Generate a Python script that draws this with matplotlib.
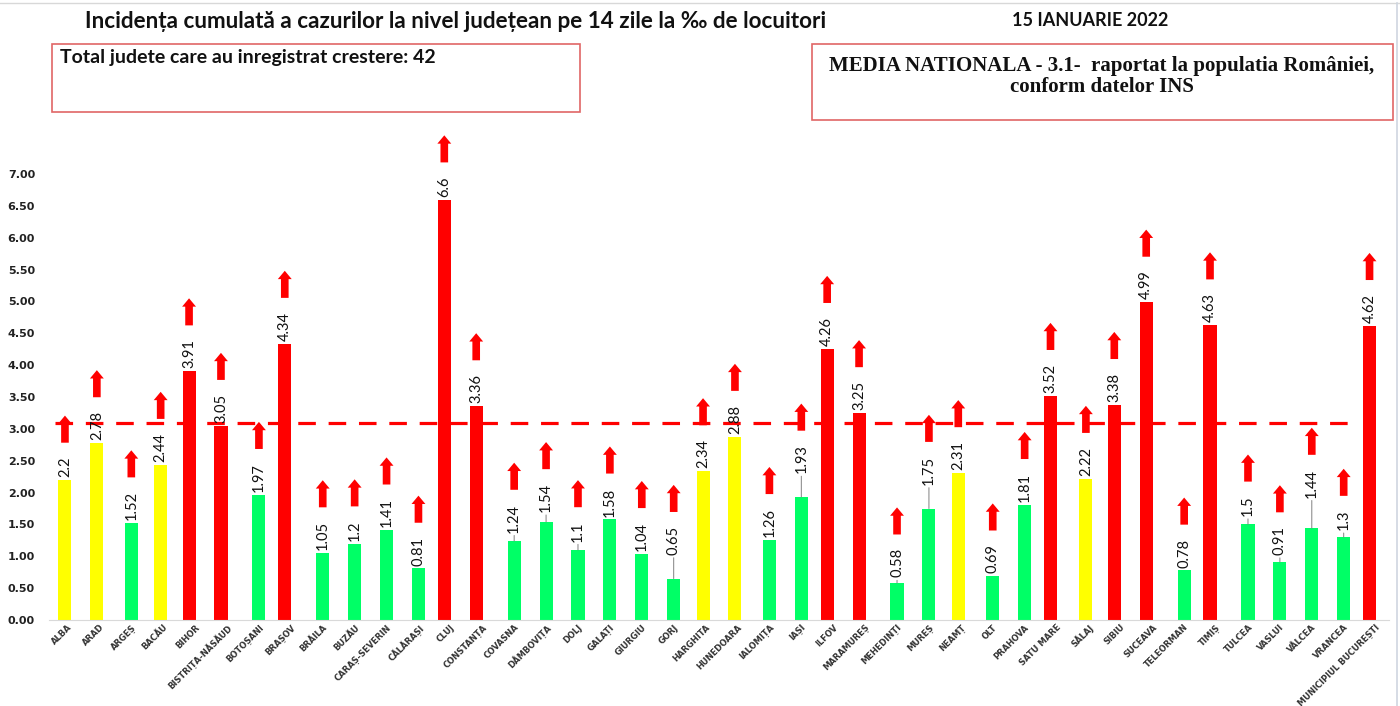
"""
incidenta_judete.py — Incidenta cumulata pe 14 zile la mia de locuitori, 15 ianuarie 2022
"""

import matplotlib
matplotlib.use('Agg')
import matplotlib.pyplot as plt
from matplotlib.patches import Rectangle
from matplotlib.lines import Line2D
import numpy as np

# ─── Data ─────────────────────────────────────────────────────────────
judete = ['ALBA', 'ARAD', 'ARGEȘ', 'BACĂU', 'BIHOR', 'BISTRIȚA-NĂSĂUD', 'BOTOȘANI',
          'BRAȘOV', 'BRĂILA', 'BUZĂU', 'CARAȘ-SEVERIN', 'CĂLĂRAȘI', 'CLUJ',
          'CONSTANȚA', 'COVASNA', 'DÂMBOVIȚA', 'DOLJ', 'GALAȚI', 'GIURGIU', 'GORJ',
          'HARGHITA', 'HUNEDOARA', 'IALOMIȚA', 'IAȘI', 'ILFOV', 'MARAMUREȘ',
          'MEHEDINȚI', 'MUREȘ', 'NEAMȚ', 'OLT', 'PRAHOVA', 'SATU MARE', 'SĂLAJ',
          'SIBIU', 'SUCEAVA', 'TELEORMAN', 'TIMIȘ', 'TULCEA', 'VASLUI', 'VÂLCEA',
          'VRANCEA', 'MUNICIPIUL BUCUREȘTI']
incidenta = [2.2, 2.78, 1.52, 2.44, 3.91, 3.05, 1.97,
             4.34, 1.05, 1.2, 1.41, 0.81, 6.6,
             3.36, 1.24, 1.54, 1.1, 1.58, 1.04, 0.65,
             2.34, 2.88, 1.26, 1.93, 4.26, 3.25,
             0.58, 1.75, 2.31, 0.69, 1.81, 3.52, 2.22,
             3.38, 4.99, 0.78, 4.63, 1.5, 0.91, 1.44,
             1.3, 4.62]
media_nationala = 3.1
total_crestere = 42

# ─── Style ────────────────────────────────────────────────────────────
C_RED, C_YEL, C_GRN = '#ff0000', '#ffff00', '#00ff66'
# Excel clustered series overlap -> small shift per series
shift = {C_RED: -0.11, C_YEL: 0.0, C_GRN: 0.08}
# labels pushed up with a leader line (points)
lift = {'COVASNA': 4, 'DÂMBOVIȚA': 5, 'DOLJ': 4, 'GORJ': 15, 'IAȘI': 15,
        'MEHEDINȚI': 2, 'MUREȘ': 15, 'TULCEA': 4, 'VASLUI': 3, 'VÂLCEA': 20,
        'VRANCEA': 3}
SANS = ['Lato', 'DejaVu Sans']

def zona(v):
    if v >= 3:
        return C_RED
    if v >= 2:
        return C_YEL
    return C_GRN

W, H = 1400, 706
fig = plt.figure(figsize=(W / 100, H / 100), dpi=100)
ax = fig.add_axes([49 / W, (H - 620) / H, (1389 - 49) / W, 490.5 / H])

colors = [zona(v) for v in incidenta]
xs = np.arange(len(judete)) + np.array([shift[c] for c in colors])
ax.bar(xs, incidenta, width=0.41, color=colors, zorder=2)

ax.set_xlim(-0.5, len(judete) - 0.5)
ax.set_ylim(0, 7.7)
ax.set_yticks(np.arange(0, 7.01, 0.5))
ax.set_yticklabels([f'{t:.2f}' for t in np.arange(0, 7.01, 0.5)],
                   fontsize=8, fontweight='bold', color='#222222')
ax.set_xticks(np.arange(len(judete)) + 0.08)
ax.set_xticklabels(judete, rotation=45, ha='right', va='top',
                   rotation_mode='anchor', fontsize=6, fontweight='bold',
                   color='#333333')
ax.tick_params(axis='both', length=0)
ax.tick_params(axis='x', pad=2)
ax.tick_params(axis='y', pad=10)
for s in ['top', 'right', 'left']:
    ax.spines[s].set_visible(False)
ax.spines['bottom'].set_color('#d9d9d9')

# national average
ax.hlines(media_nationala, -0.3, len(judete) - 1.55, colors=C_RED, lw=2.3,
          linestyles=(0, (5.5, 4)), zorder=3)

# value labels
labels = []
for x, v, j in zip(xs, incidenta, judete):
    up = lift.get(j, 0)
    arr = dict(arrowstyle='-', color='#808080', lw=0.7, shrinkA=0, shrinkB=0) if up else None
    t = ax.annotate(f'{v:g}', xy=(x, v), xytext=(0, 2 + up), textcoords='offset points',
                    rotation=90, ha='center', va='bottom', fontsize=10.5,
                    family=SANS, color='#111111', arrowprops=arr, zorder=4)
    labels.append(t)

# red "up" arrows above labels
fig.canvas.draw()
inv = ax.transData.inverted()
ppt = fig.dpi / 72
for x, t in zip(xs, labels):
    top = t.get_window_extent().y1
    tail = inv.transform((0, top + 10 * ppt))[1]
    tip = inv.transform((0, top + 29.5 * ppt))[1]
    ax.annotate('', xy=(x, tip), xytext=(x, tail),
                arrowprops=dict(arrowstyle='simple,head_width=1.0,head_length=0.6,tail_width=0.55',
                                fc=C_RED, ec='none', mutation_scale=10,
                                shrinkA=0, shrinkB=0),
                annotation_clip=False, zorder=5)

# ─── Titles and boxes ─────────────────────────────────────────────────
fig.text(456 / W, 1 - 21 / H, 'Incidența cumulată a cazurilor la nivel județean pe 14 zile la ‰ de locuitori',
         ha='center', va='center', fontsize=16.2, fontweight='bold',
         family=SANS, color='#111111')
fig.text(1090 / W, 1 - 20 / H, '15 IANUARIE 2022', ha='center', va='center',
         fontsize=13, fontweight='bold', family=SANS, color='#111111')

fig.add_artist(Rectangle((52 / W, 1 - 112 / H), 528 / W, 68 / H, transform=fig.transFigure,
                         fill=False, ec='#e06666', lw=1.2))
fig.text(60 / W, 1 - 57 / H, f'Total judete care au inregistrat crestere: {total_crestere}',
         ha='left', va='center', fontsize=14, fontweight='bold',
         family=SANS, color='#111111')

SERIF = ['Liberation Serif', 'DejaVu Serif']
fig.add_artist(Rectangle((812 / W, 1 - 120 / H), 581 / W, 76 / H, transform=fig.transFigure,
                         fill=False, ec='#e06666', lw=1.2))
fig.text(1102 / W, 1 - 66 / H, f'MEDIA NATIONALA - {media_nationala}-  raportat la populatia României,',
         ha='center', va='center', fontsize=15, fontweight='bold',
         family=SERIF, color='#111111')
fig.text(1102 / W, 1 - 87 / H, 'conform datelor INS', ha='center', va='center',
         fontsize=15, fontweight='bold', family=SERIF, color='#111111')

# screenshot frame edges
fig.add_artist(Line2D([0, 1], [1 - 3 / H, 1 - 3 / H], transform=fig.transFigure,
                      color='#d8d8d8', lw=1))
fig.add_artist(Line2D([1397 / W, 1397 / W], [0, 1 - 3 / H], transform=fig.transFigure,
                      color='#cfd6e0', lw=1.2))

fig.savefig('out.png', dpi=100)
